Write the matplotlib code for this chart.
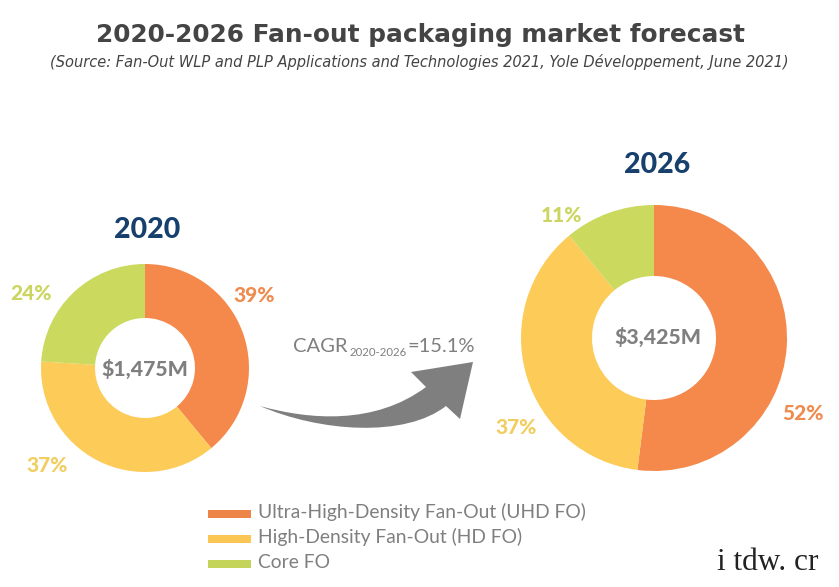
import matplotlib
matplotlib.use('Agg')
import matplotlib.pyplot as plt
from matplotlib.patches import PathPatch, Rectangle
from matplotlib.path import Path

W, H = 839, 587

segments = ['Ultra-High-Density Fan-Out (UHD FO)', 'High-Density Fan-Out (HD FO)', 'Core FO']
share_2020 = [39, 37, 24]
share_2026 = [52, 37, 11]
total_2020 = '$1,475M'
total_2026 = '$3,425M'
colors = ['#F4894B', '#FDCB58', '#CBD95F']
legend_colors = ['#EE8548', '#FBC653', '#C4D45A']
label_colors = ['#EE8C50', '#F0CE60', '#CBD560']
navy = '#17406D'
grey = '#7F7F7F'

plt.rcParams['font.family'] = ['Lato', 'DejaVu Sans']

fig = plt.figure(figsize=(W / 100, H / 100), dpi=100)

# overlay in pixel coordinates for the text and arrow
ov = fig.add_axes([0, 0, 1, 1])
ov.set_xlim(0, W)
ov.set_ylim(H, 0)
ov.axis('off')


def donut(cx, cy, r, inner, values):
    ax = fig.add_axes([(cx - r) / W, 1 - (cy + r) / H, 2 * r / W, 2 * r / H])
    ax.pie(values, colors=colors, startangle=90, counterclock=False, radius=1,
           wedgeprops=dict(width=1 - inner / r, linewidth=0))
    ax.set_xlim(-1, 1)
    ax.set_ylim(-1, 1)
    ax.set_aspect('equal')
    ax.axis('off')


donut(145, 368, 104, 50, share_2020)
donut(654, 338, 133, 62, share_2026)

# ov has to stay on top of the donuts
ov.set_zorder(5)
ov.patch.set_alpha(0)

ov.text(420, 35, '2020-2026 Fan-out packaging market forecast', family='DejaVu Sans',
        fontsize=17.8, fontweight='bold', color='#444444', ha='center', va='center')
ov.text(419.5, 62, '(Source: Fan-Out WLP and PLP Applications and Technologies 2021, Yole Développement, June 2021)',
        family='DejaVu Sans', style='italic', fontsize=10.55, color='#444444', ha='center', va='center')

ov.text(147, 230, '2020', fontsize=20.5, fontweight='black', color=navy, ha='center', va='center')
ov.text(657, 165, '2026', fontsize=20.5, fontweight='black', color=navy, ha='center', va='center')

ov.text(145, 369, total_2020, fontsize=15.3, fontweight='black', color=grey, ha='center', va='center')
ov.text(658, 337, total_2026, fontsize=15.3, fontweight='black', color=grey, ha='center', va='center')

label_pos_2020 = [(254, 296), (47, 466), (31, 293)]
label_pos_2026 = [(803, 414), (516, 427), (562, 215)]
for vals, pos in [(share_2020, label_pos_2020), (share_2026, label_pos_2026)]:
    for v, (x, y), c in zip(vals, pos, label_colors):
        ov.text(x, y, f'{v}%', fontsize=15, fontweight='black', color=c, ha='center', va='center')

# CAGR label
ov.text(293, 346, 'CAGR', fontsize=14.5, color=grey, ha='left', va='center')
ov.text(349, 353, '2020-2026', fontsize=8.2, color=grey, ha='left', va='center')
ov.text(475, 346, '=15.1%', fontsize=14.5, color=grey, ha='right', va='center')

# curved arrow
verts = [(260, 406),
         (310, 420), (375, 425), (426, 387),
         (411, 372),
         (473, 362),
         (460, 419),
         (446, 406),
         (405, 438), (320, 432), (260, 406),
         (260, 406)]
codes = [Path.MOVETO,
         Path.CURVE4, Path.CURVE4, Path.CURVE4,
         Path.LINETO, Path.LINETO, Path.LINETO, Path.LINETO,
         Path.CURVE4, Path.CURVE4, Path.CURVE4,
         Path.CLOSEPOLY]
ov.add_patch(PathPatch(Path(verts, codes), facecolor=grey, edgecolor='none'))

# legend
legend_y = [512, 537, 562]
for name, y, c in zip(segments, legend_y, legend_colors):
    ov.add_patch(Rectangle((208, y - 2.5), 43, 8.5, facecolor=c, edgecolor='none'))
    ov.text(258, y, name, fontsize=13.9, color=grey, ha='left', va='center')

# watermark, cut short as in the picture
ov.text(717, 562, 'i tdw. cr', family='Liberation Serif', fontsize=22.5, color='#222222', ha='left', va='center')

plt.savefig('out.png', dpi=100)
plt.close()
